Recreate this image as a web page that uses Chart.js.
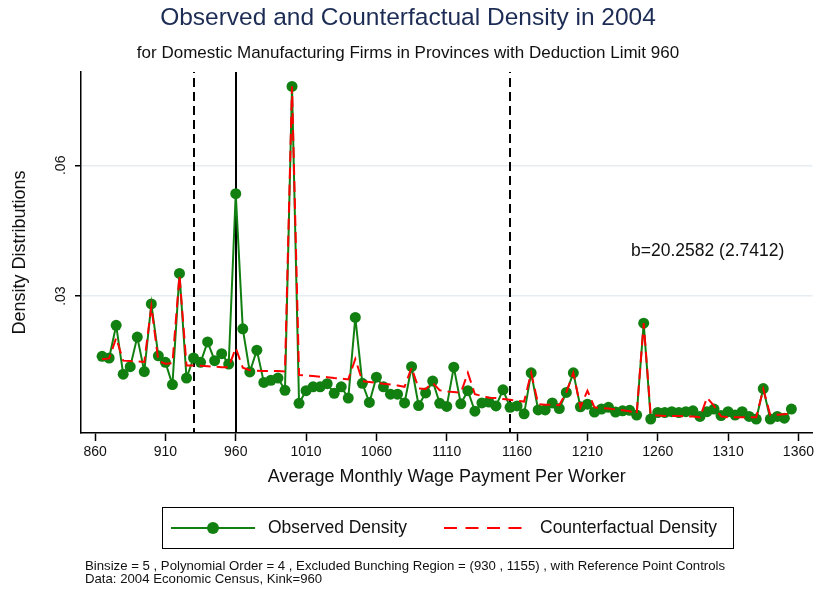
<!DOCTYPE html>
<html>
<head>
<meta charset="utf-8">
<script src="https://cdn.jsdelivr.net/npm/chart.js@4.4.0/dist/chart.umd.min.js"></script>
<style>
    html, body { margin: 0; padding: 0; background: #fff; }
    #wrap { position: relative; width: 818px; height: 589px; font-family: "Liberation Sans", Arial, sans-serif; color: #111; }
    #densityCanvas { position: absolute; left: 0; top: 0; }
    #legend-div { position: absolute; left: 162px; top: 507px; width: 572px; height: 42px; box-sizing: border-box; border: 1.5px solid #000; }
    #legend-div svg { position: absolute; top: 13px; }
    #legend-div span { position: absolute; top: 9px; font-size: 17.5px; line-height: 21px; white-space: nowrap; }
    .note { position: absolute; left: 85px; font-size: 13.2px; line-height: 14px; white-space: nowrap; color: #111; }
</style>
</head>
<body>
<div id="wrap">
    <canvas id="densityCanvas" width="818" height="589"></canvas>
    <div id="legend-div"></div>
    <div class="note" style="top:559px">Binsize = 5 , Polynomial Order = 4 , Excluded Bunching Region = (930 , 1155) , with Reference Point Controls</div>
    <div class="note" style="top:572px">Data: 2004 Economic Census, Kink=960</div>
</div>
<script>
// wage bins (midpoints, step 5)
let bins = [
    865, 870, 875, 880, 885, 890, 895, 900, 905, 910, 915, 920, 925, 930, 935, 940, 945, 950, 955, 960,
    965, 970, 975, 980, 985, 990, 995, 1000, 1005, 1010, 1015, 1020, 1025, 1030, 1035, 1040, 1045, 1050, 1055, 1060,
    1065, 1070, 1075, 1080, 1085, 1090, 1095, 1100, 1105, 1110, 1115, 1120, 1125, 1130, 1135, 1140, 1145, 1150, 1155, 1160,
    1165, 1170, 1175, 1180, 1185, 1190, 1195, 1200, 1205, 1210, 1215, 1220, 1225, 1230, 1235, 1240, 1245, 1250, 1255, 1260,
    1265, 1270, 1275, 1280, 1285, 1290, 1295, 1300, 1305, 1310, 1315, 1320, 1325, 1330, 1335, 1340, 1345, 1350, 1355
];

let observed = [
    0.0162, 0.0158, 0.0233, 0.0121, 0.0138, 0.0206, 0.0127, 0.0282, 0.0163, 0.0148, 0.0097, 0.0352, 0.0112, 0.0158, 0.0148, 0.0195, 0.0152, 0.0168, 0.0144, 0.0535,
    0.0225, 0.0126, 0.0176, 0.0102, 0.0107, 0.0112, 0.0084, 0.0781, 0.0054, 0.0083, 0.0092, 0.0092, 0.0099, 0.0077, 0.0092, 0.0066, 0.0251, 0.0100, 0.0056, 0.0114,
    0.0092, 0.0075, 0.0075, 0.0055, 0.0138, 0.0049, 0.0078, 0.0105, 0.0054, 0.0047, 0.0137, 0.0053, 0.0083, 0.0036, 0.0055, 0.0057, 0.0048, 0.0085, 0.0045, 0.0048,
    0.0030, 0.0124, 0.0039, 0.0039, 0.0055, 0.0042, 0.0079, 0.0124, 0.0046, 0.0052, 0.0034, 0.0041, 0.0045, 0.0034, 0.0037, 0.0038, 0.0027, 0.0238, 0.0018, 0.0033,
    0.0033, 0.0035, 0.0033, 0.0035, 0.0037, 0.0024, 0.0035, 0.0041, 0.0026, 0.0035, 0.0027, 0.0035, 0.0024, 0.0018, 0.0088, 0.0018, 0.0024, 0.0020, 0.0041
];

let counterfactual = [
    0.0155, 0.0157, 0.0204, 0.0152, 0.0151, 0.0150, 0.0149, 0.0276, 0.0151, 0.0145, 0.0146, 0.0348, 0.0141, 0.0141, 0.0140, 0.0139, 0.0138, 0.0137, 0.0137, 0.0181,
    0.0136, 0.0130, 0.0129, 0.0128, 0.0128, 0.0128, 0.0127, 0.0781, 0.0119, 0.0118, 0.0117, 0.0115, 0.0114, 0.0112, 0.0111, 0.0109, 0.0156, 0.0105, 0.0103, 0.0101,
    0.0099, 0.0097, 0.0095, 0.0092, 0.0136, 0.0088, 0.0087, 0.0101, 0.0084, 0.0081, 0.0080, 0.0078, 0.0124, 0.0075, 0.0071, 0.0067, 0.0066, 0.0064, 0.0062, 0.0060,
    0.0058, 0.0124, 0.0052, 0.0051, 0.0051, 0.0050, 0.0079, 0.0124, 0.0045, 0.0083, 0.0045, 0.0043, 0.0042, 0.0040, 0.0038, 0.0036, 0.0030, 0.0238, 0.0027, 0.0026,
    0.0025, 0.0025, 0.0025, 0.0024, 0.0024, 0.0022, 0.0067, 0.0048, 0.0024, 0.0022, 0.0022, 0.0022, 0.0022, 0.0022, 0.0087, 0.0027, 0.0028, 0.0029, 0.0030
];

let xTicks = [860, 910, 960, 1010, 1060, 1110, 1160, 1210, 1260, 1310, 1360];
let yTicks = [0.03, 0.06];
let yTickLabels = ['.03', '.06'];

// bunching window bounds (dashed) and kink (solid)
let dashedLines = [930, 1155];
let solidLines = [960];

let bunchingNote = 'b=20.2582 (2.7412)';

let fontFamily = '"Liberation Sans", Arial, sans-serif';

let toPoints = function (values) {
    return values.map(function (v, i) {
        return { x: bins[i], y: v };
    });
};

let refLinesPlugin = {
    id: 'refLines',
    beforeDatasetsDraw: function (chart) {
        let ctx = chart.ctx;
        let area = chart.chartArea;
        let xs = chart.scales.x;
        ctx.save();
        ctx.strokeStyle = '#000';
        ctx.lineWidth = 2;
        dashedLines.forEach(function (v) {
            let px = Math.round(xs.getPixelForValue(v));
            ctx.setLineDash([9, 5]);
            ctx.lineDashOffset = -6;
            ctx.beginPath();
            ctx.moveTo(px, area.top);
            ctx.lineTo(px, area.bottom);
            ctx.stroke();
        });
        solidLines.forEach(function (v) {
            let px = Math.round(xs.getPixelForValue(v));
            ctx.setLineDash([]);
            ctx.beginPath();
            ctx.moveTo(px, area.top);
            ctx.lineTo(px, area.bottom);
            ctx.stroke();
        });
        ctx.restore();
    },
    afterDraw: function (chart) {
        let ctx = chart.ctx;
        let xs = chart.scales.x;
        let ys = chart.scales.y;
        ctx.save();
        ctx.fillStyle = '#111';

        // y tick labels, rotated as in the original
        ctx.font = '14px ' + fontFamily;
        ctx.textAlign = 'center';
        ctx.textBaseline = 'middle';
        yTicks.forEach(function (v, i) {
            ctx.save();
            ctx.translate(chart.chartArea.left - 20, ys.getPixelForValue(v));
            ctx.rotate(-Math.PI / 2);
            ctx.fillText(yTickLabels[i], 0, 0);
            ctx.restore();
        });

        ctx.font = '17.5px ' + fontFamily;
        ctx.textAlign = 'left';
        ctx.fillText(bunchingNote, xs.getPixelForValue(1241), ys.getPixelForValue(0.0403));
        ctx.restore();
    }
};

let whiteBg = {
    id: 'whiteBg',
    beforeDraw: function (chart) {
        let ctx = chart.ctx;
        ctx.save();
        ctx.fillStyle = '#fff';
        ctx.fillRect(0, 0, chart.width, chart.height);
        ctx.restore();
    }
};

let densityChartDraw = function () {
    let ctx = document.getElementById('densityCanvas').getContext('2d');

    window.densityChart = new Chart(ctx, {
        type: 'line',
        data: {
            datasets: [
                {
                    label: 'Observed Density',
                    data: toPoints(observed),
                    borderColor: '#118011',
                    backgroundColor: '#118011',
                    borderWidth: 2,
                    pointRadius: 5.5,
                    pointBorderWidth: 0,
                    pointBackgroundColor: '#118011',
                    tension: 0,
                    order: 2
                },
                {
                    label: 'Counterfactual Density',
                    data: toPoints(counterfactual),
                    borderColor: '#ff0000',
                    borderWidth: 2,
                    borderDash: [11, 6],
                    pointRadius: 0,
                    tension: 0,
                    order: 1
                }
            ]
        },
        options: {
            responsive: false,
            animation: false,
            layout: {
                padding: { left: 0, right: 2, top: 0, bottom: 96 }
            },
            plugins: {
                legend: { display: false },
                tooltip: { enabled: false },
                title: {
                    display: true,
                    text: 'Observed and Counterfactual Density in 2004',
                    color: '#1c2c55',
                    font: { family: fontFamily, size: 24.5, weight: 'normal' },
                    padding: { top: 4, bottom: 0 }
                },
                subtitle: {
                    display: true,
                    text: 'for Domestic Manufacturing Firms in Provinces with Deduction Limit 960',
                    color: '#111',
                    font: { family: fontFamily, size: 17, weight: 'normal' },
                    padding: { top: 9.4, bottom: 8.8 }
                }
            },
            scales: {
                x: {
                    type: 'linear',
                    min: 850,
                    max: 1370,
                    afterBuildTicks: function (scale) {
                        scale.ticks = xTicks.map(function (v) { return { value: v }; });
                    },
                    afterFit: function (scale) {
                        scale.height = 60;
                    },
                    ticks: {
                        color: '#111',
                        font: { family: fontFamily, size: 14 },
                        padding: 3,
                        maxRotation: 0,
                        callback: function (v) { return String(v); }
                    },
                    grid: {
                        drawOnChartArea: false,
                        drawTicks: true,
                        tickLength: 8,
                        tickColor: '#000',
                        tickWidth: 1.5
                    },
                    border: { color: '#000', width: 1.5 },
                    title: {
                        display: true,
                        text: 'Average Monthly Wage Payment Per Worker',
                        color: '#111',
                        font: { family: fontFamily, size: 18 },
                        padding: { top: 4, bottom: 5 }
                    }
                },
                y: {
                    type: 'linear',
                    min: -0.0014,
                    max: 0.0814,
                    afterBuildTicks: function (scale) {
                        scale.ticks = yTicks.map(function (v) { return { value: v }; });
                    },
                    afterFit: function (scale) {
                        scale.width = 81;
                    },
                    ticks: {
                        color: 'rgba(0,0,0,0)',
                        font: { family: fontFamily, size: 14 }
                    },
                    grid: {
                        color: '#e6eef3',
                        lineWidth: 1.5,
                        drawTicks: true,
                        tickLength: 6,
                        tickColor: '#000',
                        tickWidth: 1.5
                    },
                    border: { color: '#000', width: 1.5 },
                    title: {
                        display: true,
                        text: 'Density Distributions',
                        color: '#111',
                        font: { family: fontFamily, size: 18 },
                        padding: { top: 9, bottom: 0 }
                    }
                }
            }
        },
        plugins: [whiteBg, refLinesPlugin]
    });
};

let customLegend = function (chart) {
    let div = document.getElementById('legend-div');
    let ds = chart.data.datasets;
    div.innerHTML =
        '<svg style="left:8px" width="84" height="14">' +
        '<line x1="0" y1="7" x2="84" y2="7" stroke="' + ds[0].borderColor + '" stroke-width="2"/>' +
        '<circle cx="42" cy="7" r="6" fill="' + ds[0].pointBackgroundColor + '"/></svg>' +
        '<span style="left:105px">' + ds[0].label + '</span>' +
        '<svg style="left:281px" width="83" height="14">' +
        '<line x1="0" y1="7" x2="83" y2="7" stroke="' + ds[1].borderColor + '" stroke-width="2" stroke-dasharray="13,8.5"/></svg>' +
        '<span style="left:377px">Counterfactual Density</span>';
};

densityChartDraw();
customLegend(window.densityChart);
</script>
</body>
</html>
